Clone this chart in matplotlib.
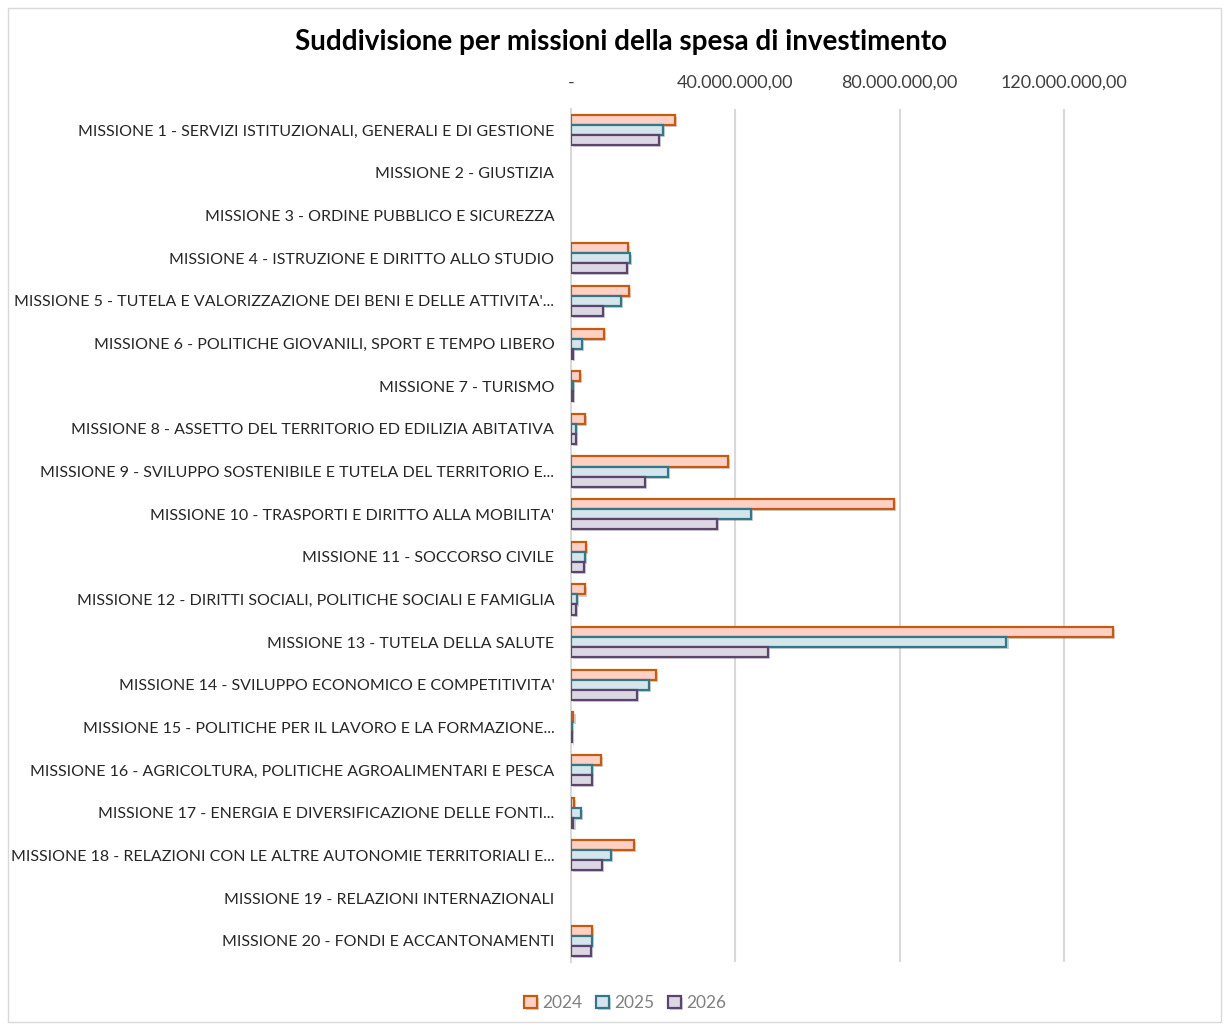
import matplotlib
matplotlib.use('Agg')
import matplotlib.pyplot as plt
import matplotlib.patheffects as pe
from matplotlib.patches import Rectangle
from matplotlib.ticker import FuncFormatter, MultipleLocator
import numpy as np

# Mission labels (as shown, with Excel truncation)
missioni = [
    "MISSIONE 1 - SERVIZI ISTITUZIONALI, GENERALI E DI GESTIONE",
    "MISSIONE 2 - GIUSTIZIA",
    "MISSIONE 3 - ORDINE PUBBLICO E SICUREZZA",
    "MISSIONE 4 - ISTRUZIONE E DIRITTO ALLO STUDIO",
    "MISSIONE 5 - TUTELA E VALORIZZAZIONE DEI BENI E DELLE ATTIVITA'...",
    "MISSIONE 6 - POLITICHE GIOVANILI, SPORT E TEMPO LIBERO",
    "MISSIONE 7 - TURISMO",
    "MISSIONE 8 - ASSETTO DEL TERRITORIO ED EDILIZIA ABITATIVA",
    "MISSIONE 9 - SVILUPPO SOSTENIBILE E TUTELA DEL TERRITORIO E...",
    "MISSIONE 10 - TRASPORTI E DIRITTO ALLA MOBILITA'",
    "MISSIONE 11 - SOCCORSO CIVILE",
    "MISSIONE 12 - DIRITTI SOCIALI, POLITICHE SOCIALI E FAMIGLIA",
    "MISSIONE 13 - TUTELA DELLA SALUTE",
    "MISSIONE 14 - SVILUPPO ECONOMICO E COMPETITIVITA'",
    "MISSIONE 15 - POLITICHE PER IL LAVORO E LA FORMAZIONE...",
    "MISSIONE 16 - AGRICOLTURA, POLITICHE AGROALIMENTARI E PESCA",
    "MISSIONE 17 - ENERGIA E DIVERSIFICAZIONE DELLE FONTI...",
    "MISSIONE 18 - RELAZIONI CON LE ALTRE AUTONOMIE TERRITORIALI E...",
    "MISSIONE 19 - RELAZIONI INTERNAZIONALI",
    "MISSIONE 20 - FONDI E ACCANTONAMENTI",
]

# Investment spending in millions of euro
spesa_2024 = [25.2, 0, 0, 13.9, 14.1, 8.0, 2.2, 3.4, 38.2, 78.6,
              3.7, 3.4, 131.9, 20.6, 0.6, 7.2, 0.8, 15.3, 0, 5.2]
spesa_2025 = [22.3, 0, 0, 14.4, 12.2, 2.7, 0.5, 1.2, 23.6, 43.9,
              3.4, 1.5, 106.0, 19.0, 0.3, 5.0, 2.4, 9.7, 0, 5.0]
spesa_2026 = [21.3, 0, 0, 13.7, 7.8, 0.5, 0.5, 1.2, 18.0, 35.5,
              3.2, 1.2, 47.9, 16.1, 0.3, 5.0, 0.6, 7.5, 0, 4.8]

anni = ["2024", "2025", "2026"]


def fmt_euro(v, pos):
    # Italian number format, zero shown as a dash like Excel accounting style
    if abs(v) < 1e-9:
        return "-"
    s = f"{v * 1e6:,.2f}"
    return s.replace(",", "X").replace(".", ",").replace("X", ".")


def plot_spesa():
    plt.rcParams['font.family'] = ['Lato', 'DejaVu Sans']

    fig = plt.figure(figsize=(12.29, 10.30), dpi=100)
    fig.patch.set_facecolor('#FFFFFF')

    # Excel-like chart border
    fig.add_artist(Rectangle((8 / 1229, 8 / 1030), 1213 / 1229, 1014 / 1030,
                             transform=fig.transFigure, fill=False,
                             edgecolor='#D9D9D9', linewidth=1.0))

    ax = fig.add_axes([571 / 1229, 1 - 962 / 1030, (1140 - 571) / 1229, (962 - 109) / 1030])

    faces = ['#FFD0C4', '#D4E6EC', '#DCD7E2']
    edges = ['#C55A11', '#31788A', '#5A4470']
    series = [spesa_2024, spesa_2025, spesa_2026]

    y = np.arange(len(missioni))
    h = 0.235
    shadow = [pe.SimplePatchShadow(offset=(1.5, -1.5), shadow_rgbFace='#000000', alpha=0.18), pe.Normal()]
    for i, (vals, anno) in enumerate(zip(series, anni)):
        bars = ax.barh(y + (i - 1) * h, vals, height=h, color=faces[i],
                       edgecolor=edges[i], linewidth=1.6, label=anno, zorder=3)
        for b in bars:
            if b.get_width() > 0:
                b.set_path_effects(shadow)
            else:
                b.set_visible(False)  # Excel draws nothing for empty values

    ax.set_xlim(0, 138.5)
    ax.set_ylim(len(missioni) - 0.5, -0.5)
    ax.xaxis.set_major_locator(MultipleLocator(40))
    ax.xaxis.set_major_formatter(FuncFormatter(fmt_euro))
    ax.xaxis.tick_top()
    ax.set_yticks(y)
    ax.set_yticklabels(missioni)

    ax.grid(axis='x', color='#D9D9D9', linewidth=1.5, zorder=0)
    ax.set_axisbelow(True)
    for s in ['top', 'right', 'bottom']:
        ax.spines[s].set_visible(False)
    ax.spines['left'].set_color('#D9D9D9')
    ax.spines['left'].set_linewidth(1.5)

    ax.tick_params(axis='x', length=0, pad=13, labelsize=13, labelcolor='#404040')
    ax.tick_params(axis='y', length=0, pad=12, labelsize=11.5, labelcolor='#262626')

    fig.text(621 / 1229, 1 - 42 / 1030, "Suddivisione per missioni della spesa di investimento",
             ha='center', va='center', fontsize=20, weight='bold', color='#000000')

    leg = fig.legend(loc='center', bbox_to_anchor=(625 / 1229, 1 - 1003 / 1030), ncol=3,
                     frameon=False, fontsize=12.5, handlelength=0.75, handleheight=0.75,
                     handletextpad=0.3, columnspacing=0.8)
    for t in leg.get_texts():
        t.set_color('#808080')

    fig.savefig('out.png', dpi=100, facecolor=fig.get_facecolor())


if __name__ == '__main__':
    plot_spesa()
